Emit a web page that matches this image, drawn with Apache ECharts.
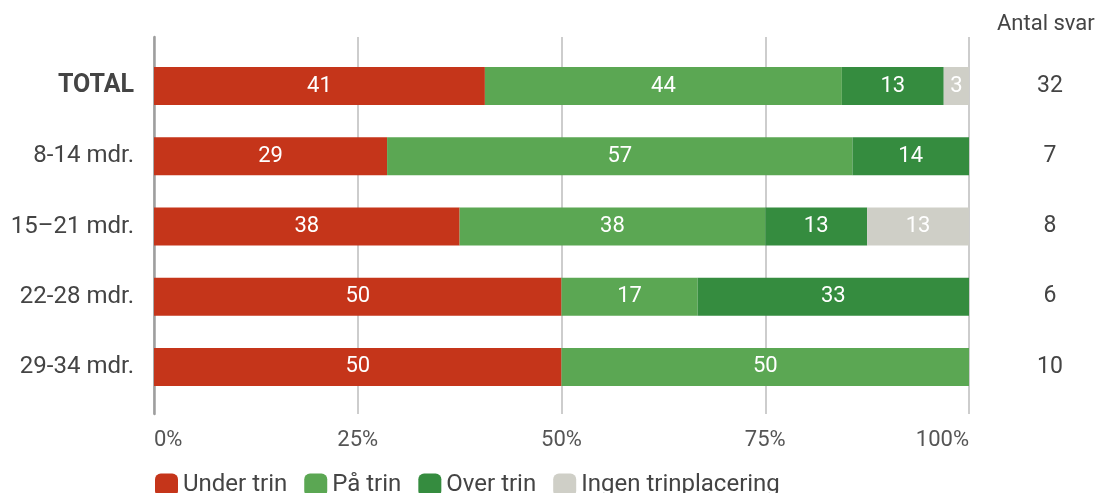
<!DOCTYPE html>
<html><head><meta charset="utf-8">
<script src="https://cdn.jsdelivr.net/npm/echarts@6/dist/echarts.min.js"></script>
<style>html,body{margin:0;padding:0;background:#fff}#c{width:1107px;height:493px}</style>
</head><body><div id="c"></div>
<script>
const categories = ['TOTAL', '8-14 mdr.', '15\u201321 mdr.', '22-28 mdr.', '29-34 mdr.'];
const underTrin = [40.6, 28.6, 37.5, 50, 50];
const paaTrin = [43.8, 57.1, 37.5, 16.7, 50];
const overTrin = [12.5, 14.3, 12.5, 33.3, null];
const ingen = [3.1, null, 12.5, null, null];
const antalSvar = [32, 7, 8, 6, 10];
const seriesNames = ['Under trin', 'På trin', 'Over trin', 'Ingen trinplacering'];
const colors = ['#C5351A', '#5BA753', '#358C3F', '#CFCFC7'];
const xTicks = ['0%', '25%', '50%', '75%', '100%'];

const font = 'Roboto, "Noto Sans", sans-serif';
const chart = echarts.init(document.getElementById('c'), null, {renderer: 'canvas'});
const mk = (name, data, i) => ({
  name, type: 'bar', stack: 'all', data, xAxisIndex: 0, yAxisIndex: 0,
  barWidth: 38, itemStyle: {color: colors[i]},
  label: {show: true, position: 'inside', color: '#fff', fontSize: 22, fontFamily: font,
    formatter: p => (p.value == null ? '' : String(Math.round(p.value)))},
  emphasis: {disabled: true}
});
chart.setOption({
  animation: false,
  textStyle: {fontFamily: font},
  grid: [
    {left: 154, right: 138, top: 51, height: 351},
    {left: 154, right: 138, top: 37, height: 377}
  ],
  xAxis: [
    {gridIndex: 0, type: 'value', min: 0, max: 100, show: false},
    {gridIndex: 1, type: 'value', min: 0, max: 100, interval: 25,
      axisLine: {show: false}, axisTick: {show: false},
      splitLine: {show: true, lineStyle: {color: '#BDBDBD', width: 1.5}},
      axisLabel: {color: '#555', fontSize: 22, margin: 15, fontFamily: font,
        alignMinLabel: 'left', alignMaxLabel: 'right',
        formatter: v => xTicks[Math.round(v / 25)]}}
  ],
  yAxis: [
    {gridIndex: 0, type: 'category', data: categories, inverse: true,
      axisLine: {show: false}, axisTick: {show: false},
      axisLabel: {margin: 20, fontSize: 24, color: '#444', fontFamily: font,
        formatter: v => v === 'TOTAL' ? '{b|' + v + '}' : v,
        rich: {b: {fontWeight: 'bold', fontSize: 25, color: '#444', fontFamily: font}}}},
    {gridIndex: 0, type: 'category', data: categories, inverse: true, position: 'right',
      axisLine: {show: false}, axisTick: {show: false},
      axisLabel: {margin: 81, align: 'center', fontSize: 23, color: '#444', fontFamily: font,
        formatter: (v, i) => String(antalSvar[i])}},
    {gridIndex: 1, type: 'category', data: [''], show: true,
      axisLine: {show: true, lineStyle: {color: '#9E9E9E', width: 2.5}},
      axisTick: {show: false}, axisLabel: {show: false}}
  ],
  legend: {
    left: 150, top: 468, itemWidth: 23, itemHeight: 23, itemGap: 17, icon: 'roundRect',
    textStyle: {fontSize: 24, color: '#444', fontFamily: font},
    data: seriesNames
  },
  graphic: [{type: 'text', left: 997, top: 13,
    style: {text: 'Antal svar', fontSize: 22, fill: '#444', fontFamily: font}}],
  series: [
    mk(seriesNames[0], underTrin, 0),
    mk(seriesNames[1], paaTrin, 1),
    mk(seriesNames[2], overTrin, 2),
    mk(seriesNames[3], ingen, 3)
  ]
});
</script></body></html>
